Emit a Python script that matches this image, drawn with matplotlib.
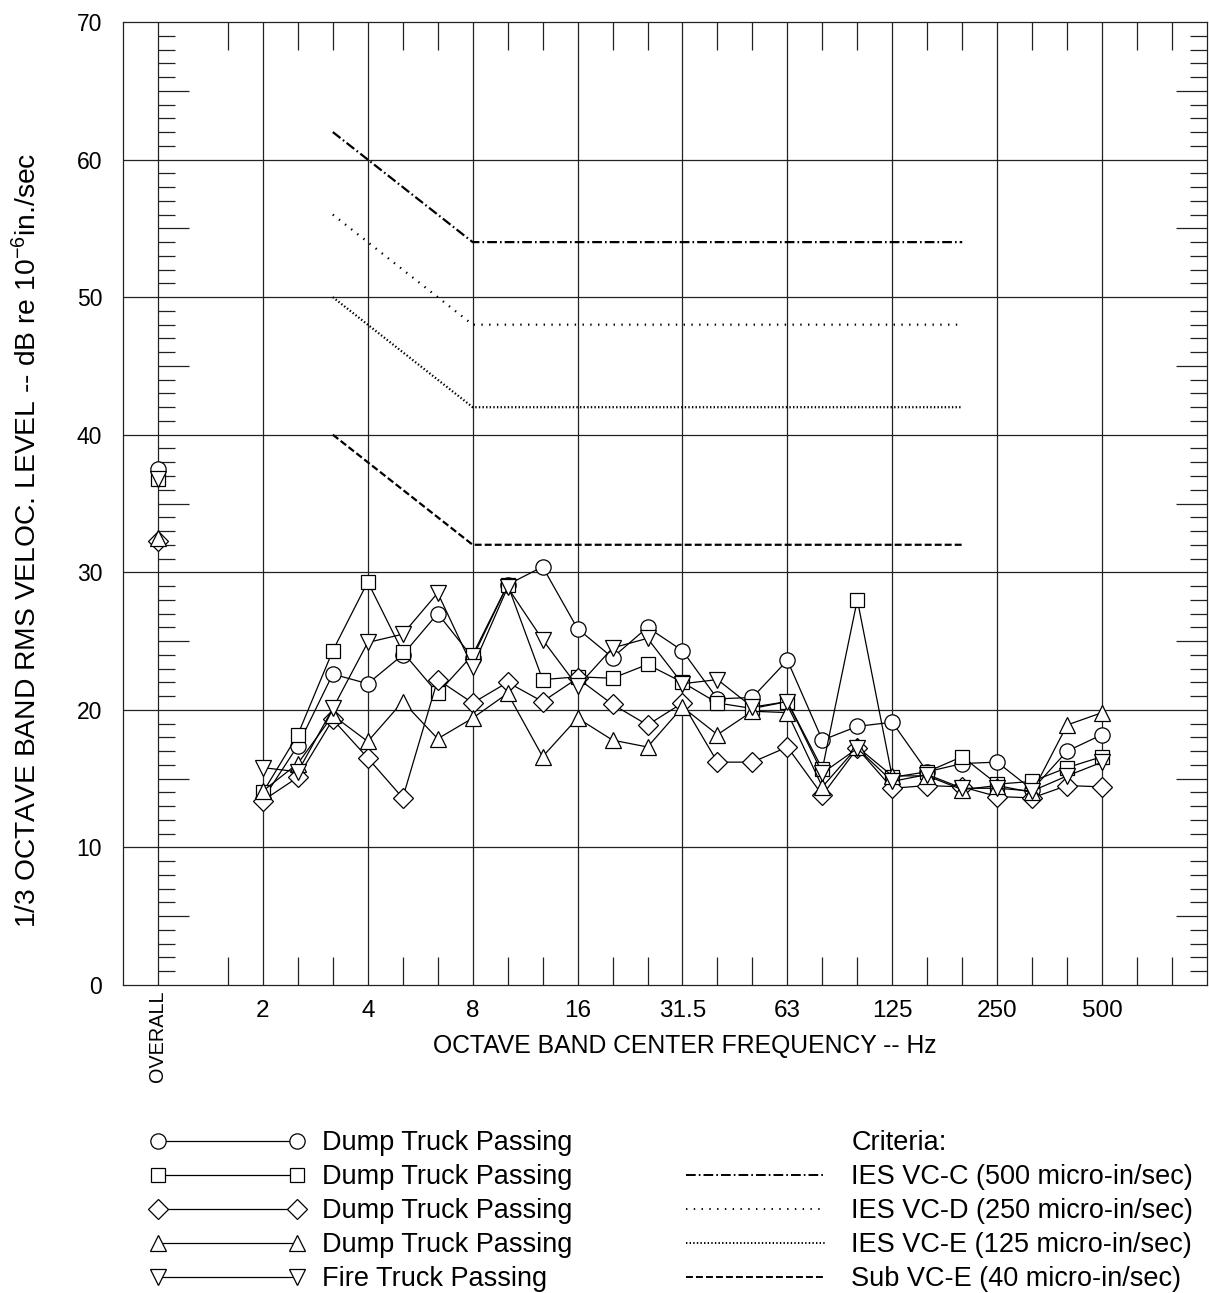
import matplotlib
matplotlib.use("Agg")
import matplotlib.pyplot as plt
from matplotlib.lines import Line2D
from matplotlib.ticker import FixedLocator, NullFormatter
import matplotlib.transforms as mtransforms

plt.rcParams['font.family'] = ['Liberation Sans', 'DejaVu Sans']
plt.rcParams['mathtext.default'] = 'regular'
plt.rcParams['lines.scale_dashes'] = False

# 1/3 octave band slots; slot of 1 Hz holds the OVERALL value
all_slots = ['0.8', 'OVERALL', '1.25', '1.6', '2', '2.5', '3.15', '4', '5', '6.3', '8', '10', '12.5',
             '16', '20', '25', '31.5', '40', '50', '63', '80', '100', '125', '160', '200',
             '250', '315', '400', '500', '630', '800', '1000']
octave_labels = ['2', '4', '8', '16', '31.5', '63', '125', '250', '500']
bands = ['2', '2.5', '3.15', '4', '5', '6.3', '8', '10', '12.5', '16', '20', '25', '31.5',
         '40', '50', '63', '80', '100', '125', '160', '200', '250', '315', '400', '500']

names = ['Dump Truck Passing', 'Dump Truck Passing', 'Dump Truck Passing',
         'Dump Truck Passing', 'Fire Truck Passing']
overall = [37.5, 36.8, 32.3, 32.5, 36.8]
truck1 = [13.5, 17.4, 22.6, 21.9, 24.0, 27.0, 23.8, 29.1, 30.4, 25.9, 23.8, 26.0, 24.3,
          20.8, 20.9, 23.6, 17.8, 18.8, 19.1, 15.5, 16.1, 16.2, 14.2, 17.0, 18.2]
truck2 = [14.0, 18.2, 24.3, 29.3, 24.2, 21.2, 24.0, 29.1, 22.2, 22.4, 22.3, 23.3, 22.0,
          20.5, 20.1, 20.6, 15.7, 28.0, 15.1, 15.5, 16.6, 14.6, 14.8, 15.8, 16.6]
truck3 = [13.4, 15.1, 19.3, 16.5, 13.6, 22.2, 20.5, 22.0, 20.6, 22.3, 20.4, 18.9, 20.5,
          16.2, 16.2, 17.3, 13.8, 17.2, 14.3, 14.5, 14.4, 13.7, 13.6, 14.5, 14.4]
truck4 = [14.1, 16.1, 19.6, 17.7, 20.6, 17.9, 19.4, 21.2, 16.6, 19.4, 17.8, 17.3, 20.2,
          18.2, 19.9, 19.8, 14.4, 17.3, 15.2, 15.2, 14.2, 14.5, 14.0, 18.9, 19.8]
fire = [15.8, 15.5, 20.1, 24.9, 25.5, 28.5, 23.1, 28.9, 25.1, 21.7, 24.5, 25.2, 21.9,
        22.2, 20.2, 20.6, 15.4, 17.2, 14.8, 15.3, 14.3, 14.3, 14.1, 15.2, 16.2]
series = [truck1, truck2, truck3, truck4, fire]
markers = ['o', 's', 'D', '^', 'v']
msizes = [11, 10.5, 10.5, 11.5, 11.5]

crit_bands = ['3.15', '8', '200']
crit_names = ['IES VC-C (500 micro-in/sec)', 'IES VC-D (250 micro-in/sec)',
              'IES VC-E (125 micro-in/sec)', 'Sub VC-E (40 micro-in/sec)']
vc_c = [62, 54, 54]
vc_d = [56, 48, 48]
vc_e = [50, 42, 42]
sub_vc_e = [40, 32, 32]
crit_vals = [vc_c, vc_d, vc_e, sub_vc_e]
crit_dashes = [(7, 2.2, 1.2, 2.2), (1.0, 4.6), (1.0, 1.6), (5, 2.2)]

pos = {b: i for i, b in enumerate(all_slots)}

fig = plt.figure(figsize=(12.09, 12.93), dpi=100)
ax = fig.add_axes([123 / 1209, 1 - 985 / 1293, (1207 - 123) / 1209, (985 - 22) / 1293])
ax.set_xlim(0, len(all_slots) - 1)
ax.set_ylim(0, 70)

# grid
for lab in ['OVERALL'] + octave_labels:
    ax.axvline(pos[lab], color='#222222', lw=0.9, zorder=1)
for v in range(10, 70, 10):
    ax.axhline(v, color='#222222', lw=0.9, zorder=1)

# criteria
crit_handles = []
for vals, dsh, nm in zip(crit_vals, crit_dashes, crit_names):
    h, = ax.plot([pos[b] for b in crit_bands], vals, color='black', lw=1.6,
                 dashes=dsh, zorder=2, label=nm)
    crit_handles.append(h)

# data
handles = []
for vals, ov, mk, ms, nm in zip(series, overall, markers, msizes, names):
    h, = ax.plot([pos[b] for b in bands], vals, color='black', lw=0.9, marker=mk,
                 markersize=ms, markerfacecolor='white', markeredgecolor='black',
                 markeredgewidth=0.9, zorder=3, label=nm)
    ax.plot([pos['OVERALL']], [ov], color='black', lw=0, marker=mk, markersize=ms,
            markerfacecolor='white', markeredgecolor='black', markeredgewidth=0.9, zorder=3)
    handles.append(h)

# axes ticks
ax.set_xticks([pos[l] for l in octave_labels])
ax.set_xticklabels(octave_labels, fontsize=17.5)
minor_x = [pos[b] for b in all_slots[3:-1] if b not in octave_labels]
ax.xaxis.set_minor_locator(FixedLocator(minor_x))
ax.tick_params(axis='x', which='major', length=0, pad=11)
ax.tick_params(axis='x', which='minor', direction='in', length=20, width=0.9,
               top=True, bottom=True, color='#222222')
ax.set_yticks(range(0, 71, 10))
ax.set_yticklabels([str(v) for v in range(0, 71, 10)], fontsize=16.5)
ax.tick_params(axis='y', which='major', length=0, pad=15)
for sp in ax.spines.values():
    sp.set_linewidth(0.9)
    sp.set_color('#222222')

trans = mtransforms.blended_transform_factory(ax.transData, ax.transAxes)
ax.text(pos['OVERALL'], -0.006, 'OVERALL', transform=trans, rotation=90,
        ha='center', va='top', fontsize=14.3)

five = [v for v in range(5, 70, 10)]
ones = [v for v in range(1, 70) if v % 5 != 0]
for loc, side in [(pos['OVERALL'] / (len(all_slots) - 1), 'left'), (1.0, 'right')]:
    sec = ax.secondary_yaxis(loc)
    sec.spines[side].set_visible(False)
    sec.yaxis.set_major_locator(FixedLocator(five))
    sec.yaxis.set_minor_locator(FixedLocator(ones))
    sec.yaxis.set_major_formatter(NullFormatter())
    sec.yaxis.set_ticks_position(side)
    sec.tick_params(which='major', direction='in', length=22, width=0.9, color='#222222')
    sec.tick_params(which='minor', direction='in', length=12.5, width=0.9, color='#222222')

ax.set_xlabel('OCTAVE BAND CENTER FREQUENCY -- Hz', fontsize=17.8)
ax.xaxis.set_label_coords(0.518, -0.051)
ax.set_ylabel('1/3 OCTAVE BAND RMS VELOC. LEVEL -- dB re 10$^{-6}$in./sec', fontsize=20.3)
ax.yaxis.set_label_coords(-0.074, 0.462)

# legends
lfs = 19.5
em = lfs * 100 / 72
leg1 = fig.legend(handles=handles, loc='upper left',
                  bbox_to_anchor=((158 - 0.3 * em) / 1209, 1 - 1130 / 1293),
                  frameon=False, numpoints=2, handlelength=(139 + 0.6 * em) / em,
                  handletextpad=0.62, labelspacing=0.3, fontsize=lfs,
                  borderpad=0, borderaxespad=0)
title_h = Line2D([], [], linestyle='none', marker=None)
leg2 = fig.legend(handles=[title_h] + crit_handles, labels=['Criteria:'] + crit_names,
                  loc='upper left', bbox_to_anchor=(686 / 1209, 1 - 1130 / 1293),
                  frameon=False, handlelength=140 / em, handletextpad=0.94,
                  labelspacing=0.3, fontsize=lfs, borderpad=0, borderaxespad=0)
for lh in leg2.get_lines():
    lh.set_linewidth(1.4)

fig.savefig('out.png', dpi=100)
